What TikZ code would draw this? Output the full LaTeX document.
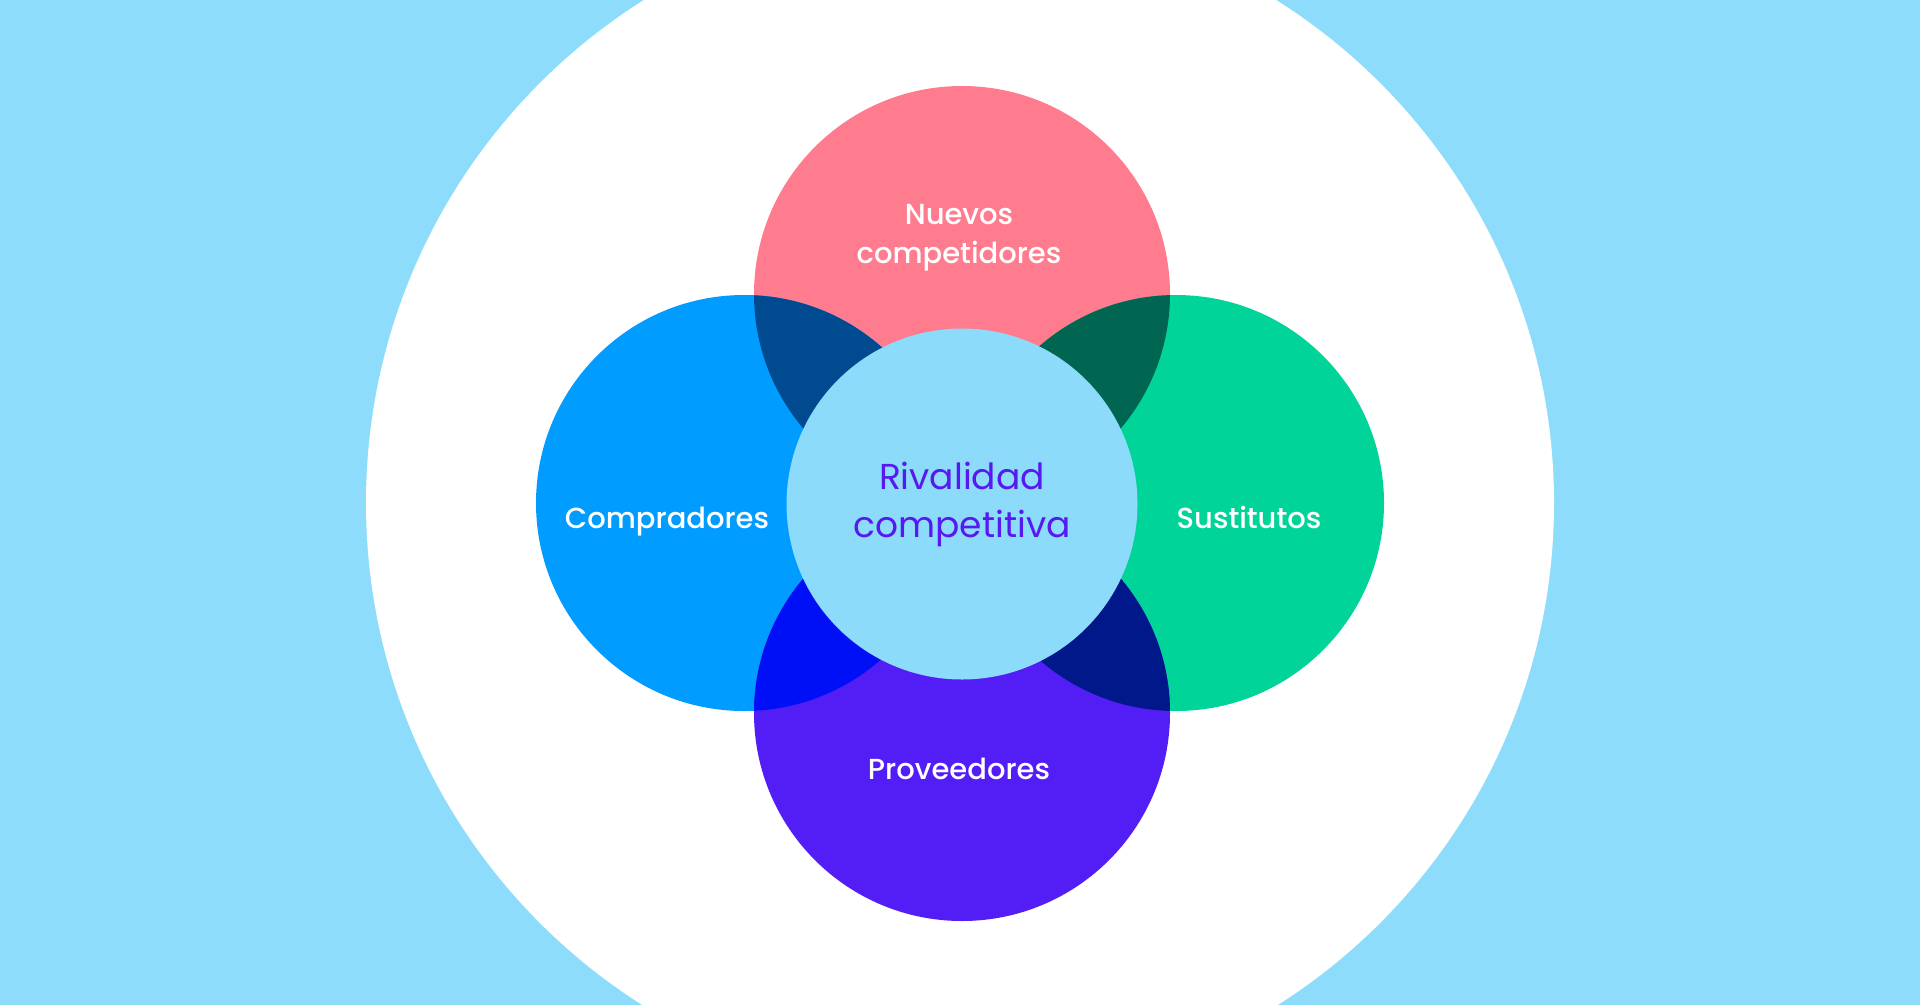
\documentclass[tikz,border=0pt]{standalone}
\usepackage{fontspec}
\setmainfont{Poppins}
\newfontfamily\pmed{Poppins}[UprightFont={* Medium}]
\definecolor{bgblue}{HTML}{8EDCFB}
\definecolor{cpink}{HTML}{FF7B8E}
\definecolor{cblue}{HTML}{009CFF}
\definecolor{cgreen}{HTML}{00D498}
\definecolor{cpurple}{HTML}{531DF5}
\definecolor{ccenter}{HTML}{8CDBFB}
\definecolor{opb}{HTML}{004A8F}
\definecolor{opg}{HTML}{006652}
\definecolor{obp}{HTML}{0010F6}
\definecolor{ogp}{HTML}{00188A}
\definecolor{ctext}{HTML}{5619F0}
\tikzset{
  lbl/.style={text=white, font=\pmed\fontsize{29}{39}\selectfont, align=center},
  ctr/.style={text=ctext, font=\fontsize{36}{48}\selectfont, align=center},
}
\begin{document}
\begin{tikzpicture}[x=1pt,y=-1pt]
\useasboundingbox (0,0) rectangle (1920,1005);
\fill[bgblue] (0,0) rectangle (1920,1005);
\fill[white] (960,503) circle[radius=594];
% outer circles
\fill[cpink] (962,294) circle[radius=208];
\fill[cblue] (744,503) circle[radius=208];
\fill[cgreen] (1176,503) circle[radius=208];
\fill[cpurple] (962,713) circle[radius=208];
% overlaps
\begin{scope}
  \clip (962,294) circle[radius=208];
  \fill[opb] (744,503) circle[radius=208];
  \fill[opg] (1176,503) circle[radius=208];
\end{scope}
\begin{scope}
  \clip (962,713) circle[radius=208];
  \fill[obp] (744,503) circle[radius=208];
  \fill[ogp] (1176,503) circle[radius=208];
\end{scope}
% center
\fill[ccenter] (962,504) circle[radius=175.5];
% labels
\node[lbl] (nuevos) at (959,238) {Nuevos\\competidores};
\node[lbl] (compradores) at (667,522) {Compradores};
\node[lbl] (sustitutos) at (1249,517) {Sustitutos};
\node[lbl] (proveedores) at (959,769) {Proveedores};
\node[ctr] (rival) at (962,504) {Rivalidad\\competitiva};
\end{tikzpicture}
\end{document}
